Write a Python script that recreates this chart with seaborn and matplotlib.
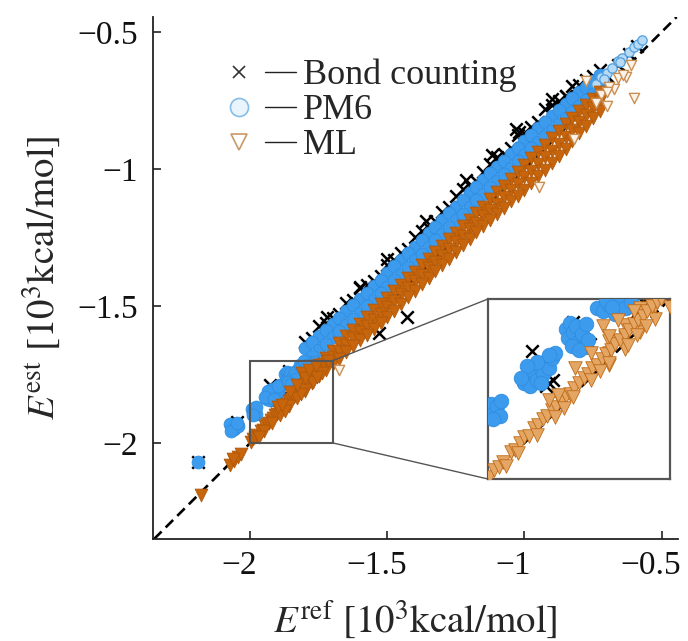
import matplotlib
matplotlib.use("Agg")
import matplotlib.pyplot as plt
from matplotlib.lines import Line2D
from matplotlib.patches import Rectangle, ConnectionPatch
from matplotlib.legend_handler import HandlerTuple
from matplotlib.transforms import ScaledTranslation
import pandas as pd
import seaborn as sns

# values, all in 10^3 kcal/mol
series_names = ["Bond counting", "PM6", "ML"]
tick_values = [-2, -1.5, -1, -0.5]
tick_labels = ["\u22122", "\u22121.5", "\u22121", "\u22120.5"]
zoom_lims = (-2.0, -1.7)

# E_ref positions used along the dense bands
grid_a = [-1.80, -1.75, -1.70, -1.65, -1.60, -1.55, -1.50, -1.45, -1.40, -1.35, -1.30,
          -1.25, -1.20, -1.15, -1.10, -1.05, -1.00, -0.95, -0.90, -0.85, -0.80, -0.75]
grid_b = [-1.775, -1.725, -1.675, -1.625, -1.575, -1.525, -1.475, -1.425, -1.375, -1.325, -1.275,
          -1.225, -1.175, -1.125, -1.075, -1.025, -0.975, -0.925, -0.875, -0.825, -0.775, -0.725]

# Bond counting: fringe on the upper edge of the PM6 band + scattered points
bond_row1_est = [-1.618, -1.563, -1.528, -1.478, -1.422, -1.389, -1.331, -1.293, -1.225, -1.191, -1.137,
                 -1.073, -1.044, -0.981, -0.944, -0.877, -0.845, -0.780, -0.750, -0.697, -0.674, -0.640]
bond_row2_est = [-1.630, -1.575, -1.545, -1.490, -1.435, -1.408, -1.350, -1.307, -1.249, -1.215, -1.156,
                 -1.097, -1.063, -1.010, -0.957, -0.925, -0.868, -0.827, -0.767, -0.733, -0.695, -0.660]
bond_spike_ref = [-1.72, -1.60, -1.50, -1.36, -1.215, -1.12, -1.03, -1.02, -0.90]
bond_spike_est = [-1.54, -1.43, -1.33, -1.19, -1.04, -0.95, -0.855, -0.865, -0.745]
bond_other_ref = [-0.85, -0.777, -0.72, -0.70, -0.66, -0.62, -0.59, -1.43, -1.53, -2.19, -2.05]
bond_other_est = [-0.735, -0.735, -0.665, -0.66, -0.62, -0.58, -0.55, -1.54, -1.60, -2.07, -1.925]
bond_zoom_ref = [-1.905, -1.90, -1.893, -1.928, -1.838, -1.832, -1.86, -1.77, -1.76, -1.755, -1.75, -1.745]
bond_zoom_est = [-1.845, -1.84, -1.835, -1.787, -1.782, -1.775, -1.738, -1.712, -1.715, -1.722, -1.71, -1.705]

# PM6: dense band above the diagonal + clusters at low energy
pm6_up_a = [-1.655, -1.610, -1.565, -1.520, -1.475, -1.428, -1.380, -1.332, -1.284, -1.235, -1.186,
            -1.137, -1.088, -1.040, -0.992, -0.945, -0.898, -0.852, -0.807, -0.763, -0.720, -0.677]
pm6_up_b = [-1.633, -1.588, -1.543, -1.498, -1.452, -1.404, -1.356, -1.308, -1.260, -1.211, -1.162,
            -1.113, -1.064, -1.016, -0.969, -0.922, -0.875, -0.830, -0.785, -0.742, -0.699, -0.655]
pm6_lo_a = [-1.705, -1.660, -1.615, -1.570, -1.525, -1.478, -1.430, -1.382, -1.334, -1.285, -1.236,
            -1.187, -1.138, -1.090, -1.042, -0.995, -0.948, -0.902, -0.857, -0.813, -0.770, -0.727]
pm6_lo_b = [-1.683, -1.638, -1.593, -1.548, -1.502, -1.454, -1.406, -1.358, -1.310, -1.261, -1.212,
            -1.163, -1.114, -1.066, -1.019, -0.972, -0.925, -0.880, -0.835, -0.792, -0.749, -0.705]
pm6_top_ref = [-0.74, -0.72, -0.70, -0.68, -0.66, -0.645, -0.62, -0.60, -0.585, -0.57, -0.71, -0.65]
pm6_top_est = [-0.69, -0.665, -0.648, -0.63, -0.605, -0.595, -0.574, -0.555, -0.545, -0.53, -0.67, -0.61]
pm6_low_ref = [-2.19, -2.075, -2.06, -2.045, -2.07, -2.05]
pm6_low_est = [-2.07, -1.93, -1.95, -1.94, -1.955, -1.928]
pm6_zoom_ref = [-1.995, -1.99, -1.985, -1.98, -1.978, -1.992,
                -1.94, -1.935, -1.93, -1.925, -1.92, -1.915, -1.91, -1.905, -1.90, -1.895, -1.89, -1.92,
                -1.935, -1.90, -1.945, -1.912,
                -1.872, -1.865, -1.868, -1.86, -1.855, -1.85, -1.845, -1.84, -1.838, -1.835, -1.862, -1.85,
                -1.82, -1.81, -1.80, -1.79, -1.785, -1.775, -1.765, -1.805, -1.795]
pm6_zoom_est = [-1.875, -1.89, -1.878, -1.895, -1.87, -1.90,
                -1.84, -1.828, -1.845, -1.822, -1.835, -1.812, -1.825, -1.803, -1.815, -1.798, -1.79, -1.805,
                -1.812, -1.793, -1.832, -1.84,
                -1.75, -1.74, -1.765, -1.755, -1.745, -1.77, -1.758, -1.78, -1.742, -1.768, -1.778, -1.785,
                -1.715, -1.72, -1.71, -1.725, -1.705, -1.715, -1.705, -1.702, -1.714]

# ML: wider band around the diagonal
ml_up_a = [-1.770, -1.715, -1.663, -1.610, -1.565, -1.515, -1.470, -1.423, -1.375, -1.327, -1.280,
           -1.233, -1.185, -1.137, -1.085, -1.038, -0.985, -0.937, -0.888, -0.837, -0.790, -0.743]
ml_up_b = [-1.743, -1.689, -1.637, -1.588, -1.540, -1.493, -1.447, -1.399, -1.351, -1.304, -1.257,
           -1.209, -1.161, -1.111, -1.062, -1.012, -0.961, -0.913, -0.863, -0.814, -0.767, -0.720]
ml_mid_a = [-1.790, -1.738, -1.688, -1.641, -1.596, -1.551, -1.505, -1.458, -1.410, -1.363, -1.316,
            -1.268, -1.220, -1.173, -1.126, -1.078, -1.030, -0.982, -0.933, -0.882, -0.830, -0.778]
ml_mid_b = [-1.763, -1.712, -1.664, -1.618, -1.573, -1.528, -1.482, -1.434, -1.386, -1.339, -1.292,
            -1.244, -1.196, -1.149, -1.102, -1.054, -1.006, -0.958, -0.908, -0.856, -0.804, -0.752]
ml_lo_a = [-1.810, -1.755, -1.713, -1.670, -1.625, -1.585, -1.540, -1.493, -1.445, -1.397, -1.350,
           -1.303, -1.255, -1.207, -1.165, -1.118, -1.075, -1.027, -0.978, -0.927, -0.870, -0.813]
ml_lo_b = [-1.783, -1.734, -1.692, -1.648, -1.605, -1.563, -1.517, -1.469, -1.421, -1.374, -1.327,
           -1.279, -1.231, -1.186, -1.142, -1.097, -1.051, -1.003, -0.953, -0.899, -0.842, -0.790]
ml_low_ref = [-2.18, -2.075, -2.06, -2.045, -2.035, -2.065]
ml_low_est = [-2.19, -2.08, -2.065, -2.05, -2.04, -2.06]
ml_other_ref = [-0.777, -0.700, -0.602, -0.675, -0.628, -0.82, -0.948, -0.72, -0.69, -0.66, -0.64,
                -0.74, -0.61, -0.70, -1.675]
ml_other_est = [-0.680, -0.771, -0.739, -0.709, -0.665, -0.89, -1.064, -0.73, -0.70, -0.668, -0.655,
                -0.76, -0.62, -0.72, -1.733]
ml_zoom_ref = [-1.998, -1.99, -1.982, -1.975, -1.962, -1.955, -1.948, -1.94, -1.932, -1.925, -1.918, -1.91,
               -1.902, -1.895, -1.888, -1.88, -1.872, -1.865, -1.858, -1.85, -1.842, -1.835, -1.828, -1.82,
               -1.812, -1.805, -1.798, -1.79, -1.782, -1.775, -1.768, -1.76, -1.752, -1.745, -1.738, -1.73,
               -1.722, -1.715,
               -1.95, -1.92, -1.89, -1.86, -1.83, -1.80, -1.77, -1.74, -1.97, -1.875, -1.815, -1.755,
               -1.856, -1.90, -1.81, -1.80, -1.785, -1.76, -1.885, -1.83]
ml_zoom_est = [-1.996, -1.985, -1.98, -1.972, -1.955, -1.952, -1.94, -1.93, -1.928, -1.915, -1.91, -1.90,
               -1.895, -1.885, -1.88, -1.872, -1.862, -1.858, -1.848, -1.84, -1.832, -1.825, -1.815, -1.81,
               -1.80, -1.792, -1.785, -1.775, -1.768, -1.76, -1.752, -1.742, -1.735, -1.728, -1.72, -1.712,
               -1.705, -1.70,
               -1.957, -1.926, -1.897, -1.864, -1.835, -1.806, -1.776, -1.745, -1.978, -1.882, -1.82, -1.76,
               -1.815, -1.868, -1.745, -1.762, -1.735, -1.72, -1.86, -1.79]

bond = pd.DataFrame({
    "E_ref": grid_b + grid_a + bond_spike_ref + bond_other_ref + bond_zoom_ref,
    "E_est": bond_row1_est + bond_row2_est + bond_spike_est + bond_other_est + bond_zoom_est,
})
pm6 = pd.DataFrame({
    "E_ref": grid_a + grid_b + grid_a + grid_b + pm6_low_ref + pm6_zoom_ref,
    "E_est": pm6_up_a + pm6_up_b + pm6_lo_a + pm6_lo_b + pm6_low_est + pm6_zoom_est,
})
pm6_sparse = pd.DataFrame({"E_ref": pm6_top_ref, "E_est": pm6_top_est})
ml = pd.DataFrame({
    "E_ref": grid_a + grid_b + grid_a + grid_b + grid_a + grid_b + ml_low_ref + ml_zoom_ref,
    "E_est": ml_up_a + ml_up_b + ml_mid_a + ml_mid_b + ml_lo_a + ml_lo_b + ml_low_est + ml_zoom_est,
})
ml_sparse = pd.DataFrame({"E_ref": ml_other_ref, "E_est": ml_other_est})

sns.set_theme(style="ticks")
plt.rcParams["font.family"] = ["Liberation Serif", "DejaVu Serif"]
plt.rcParams["mathtext.fontset"] = "stix"

blue, blue_edge = "#3c9bec", "#2f8ee2"


def draw_points(a, s_pm6, s_ml, ml_face, ml_edge):
    a.axline((-1, -1), slope=1, color="black", lw=1.9, ls=(0, (4, 2.2)), zorder=1)
    sns.scatterplot(data=bond, x="E_ref", y="E_est", ax=a, marker="x", color="black",
                    s=80, linewidth=1.8, legend=False, zorder=2)
    sns.scatterplot(data=pm6, x="E_ref", y="E_est", ax=a, marker="o", color=blue,
                    edgecolor=blue_edge, s=s_pm6, linewidth=0.6, legend=False, zorder=3)
    sns.scatterplot(data=pm6_sparse, x="E_ref", y="E_est", ax=a, marker="o", color="#b9daf5",
                    edgecolor="#4f9fe0", s=45, linewidth=0.9, legend=False, zorder=3)
    sns.scatterplot(data=ml, x="E_ref", y="E_est", ax=a, marker="v", color=ml_face,
                    edgecolor=ml_edge, s=s_ml, linewidth=0.6, legend=False, zorder=4)
    sns.scatterplot(data=ml_sparse, x="E_ref", y="E_est", ax=a, marker="v", color="#fbf3ea",
                    edgecolor="#c98f52", s=55, linewidth=1.0, legend=False, zorder=4)


fig = plt.figure(figsize=(6.88, 6.41), dpi=100)
ax = fig.add_axes([153 / 688, 102 / 641, 525 / 688, 522 / 641])
draw_points(ax, 85, 85, "#c6650c", "#b0580a")
ax.set_xlim(-2.355, -0.44)
ax.set_ylim(-2.351, -0.445)
ax.set_xticks(tick_values, tick_labels)
ax.set_yticks(tick_values, tick_labels)
ax.tick_params(direction="in", length=6, width=1.1, labelsize=24, colors="#111")
ax.tick_params(axis="x", pad=8)
ax.tick_params(axis="y", pad=11)
for lab in ax.get_xticklabels():
    lab.set_transform(lab.get_transform() + ScaledTranslation(-0.11, 0, fig.dpi_scale_trans))
sns.despine(ax=ax)
for sp in ["left", "bottom"]:
    ax.spines[sp].set_linewidth(1.3)
    ax.spines[sp].set_color("#222")
ax.set_xlabel(r"$E^{\mathrm{ref}}\ [10^3\mathrm{kcal/mol}]$", fontsize=28, labelpad=13)
ax.set_ylabel(r"$E^{\mathrm{est}}\ [10^3\mathrm{kcal/mol}]$", fontsize=28, labelpad=10)

# legend: marker, a short rule, then the name
markers = [
    Line2D([], [], ls="none", marker="x", color="#333", markersize=9, mew=1.2),
    Line2D([], [], ls="none", marker="o", mfc="#eaf4fc", mec="#86bde8", markersize=13, mew=1.2),
    Line2D([], [], ls="none", marker="v", mfc="white", mec="#c89868", markersize=12, mew=1.2),
]
rule = Line2D([], [], color="#222", lw=1.0)
ax.legend([(m, rule) for m in markers], series_names,
          handler_map={tuple: HandlerTuple(ndivide=None, pad=0.3)},
          loc="upper left", bbox_to_anchor=(0.135, 0.92), frameon=False, fontsize=26,
          handlelength=2.0, handletextpad=0.2, labelspacing=0.05, borderpad=0, borderaxespad=0)

# zoom box and inset
frame_col = "#555555"
ax.add_patch(Rectangle((zoom_lims[0], zoom_lims[0]), zoom_lims[1] - zoom_lims[0], zoom_lims[1] - zoom_lims[0],
                       fill=False, ec=frame_col, lw=1.5, zorder=5))
axins = fig.add_axes([488 / 688, 162 / 641, 182 / 688, 180 / 641])
draw_points(axins, 110, 95, "#e3a665", "#c06a15")
axins.set_xlim(*zoom_lims)
axins.set_ylim(*zoom_lims)
axins.set_xticks([])
axins.set_yticks([])
axins.set_xlabel("")
axins.set_ylabel("")
for sp in axins.spines.values():
    sp.set_color(frame_col)
    sp.set_linewidth(1.6)

for ya, yb in [(zoom_lims[1], 1), (zoom_lims[0], 0)]:
    con = ConnectionPatch(xyA=(zoom_lims[1], ya), coordsA=ax.transData,
                          xyB=(0, yb), coordsB=axins.transAxes, color=frame_col, lw=1.0)
    fig.add_artist(con)

fig.savefig("out.png", dpi=100)
